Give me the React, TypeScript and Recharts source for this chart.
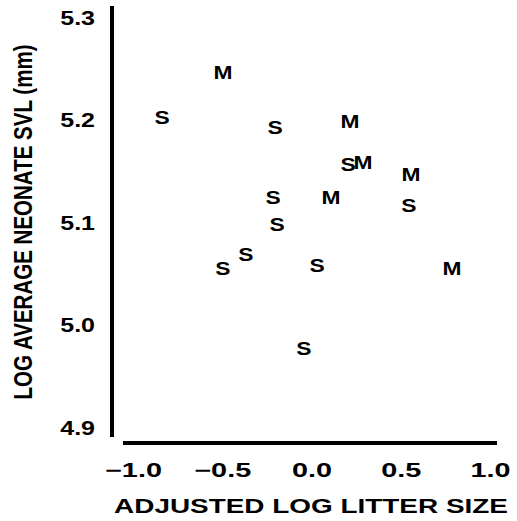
import { Label, Scatter, ScatterChart, XAxis, YAxis } from "recharts";

// litter size (x) vs neonate SVL (y), S and M groups
const sLitter = [-0.84, -0.207, -0.218, -0.196, 0.202, 0.543, -0.37, -0.499, 0.028, -0.045];
const sSvl = [5.203, 5.193, 5.125, 5.099, 5.157, 5.117, 5.07, 5.056, 5.059, 4.978];
const mLitter = [-0.499, 0.106, 0.286, 0.213, 0.555, 0.784];
const mSvl = [5.247, 5.125, 5.159, 5.199, 5.148, 5.056];

const xTicks = [-1, -0.5, 0, 0.5, 1];
const yTicks = [4.9, 5.0, 5.1, 5.2, 5.3];

const sData = sLitter.map((x, i) => ({ x, y: sSvl[i] }));
const mData = mLitter.map((x, i) => ({ x, y: mSvl[i] }));

const FONT = "'Liberation Sans', Arial, Helvetica, sans-serif";
const W = 517;
const H = 521;

const fmt = (v: number) => (v < 0 ? "\u2212" + Math.abs(v).toFixed(1) : v.toFixed(1));

function XTick(props: any) {
  const { x, payload } = props;
  return (
    <g transform={`translate(${x},470)`}>
      <text transform="scale(1.48,1)" textAnchor="middle" dominantBaseline="central" fontFamily={FONT} fontWeight={700} fontSize={19.5} fill="#000">
        {fmt(payload.value)}
      </text>
    </g>
  );
}

function YTick(props: any) {
  const { y, payload } = props;
  return (
    <g transform={`translate(95,${y})`}>
      <text transform="scale(1.25,1)" textAnchor="end" dominantBaseline="central" fontFamily={FONT} fontWeight={700} fontSize={20} fill="#000">
        {payload.value.toFixed(1)}
      </text>
    </g>
  );
}

const letter = (ch: string) => (props: any) => (
  <g transform={`translate(${props.cx},${props.cy})`}>
    <text transform="scale(1.2,1)" textAnchor="middle" dominantBaseline="central" fontFamily={FONT} fontWeight={700} fontSize={19} fill="#000">
      {ch}
    </text>
  </g>
);

export default function App() {
  return (
    <div style={{ position: "absolute", left: 0, top: 0, width: W, height: H, background: "#fff" }}>
      <ScatterChart width={W} height={H} margin={{ top: 6, right: 20, bottom: 0, left: 0 }}>
        <XAxis
          type="number"
          dataKey="x"
          domain={[-1.1204, 1.0364]}
          allowDataOverflow
          ticks={xTicks}
          interval={0}
          height={78}
          tickLine={false}
          axisLine={{ stroke: "#000", strokeWidth: 4, strokeDasharray: "0 11 1000" }}
          tick={<XTick />}
        >
          <Label
            content={() => (
              <g transform="translate(311,506)">
                <text transform="scale(1.33,1)" textAnchor="middle" dominantBaseline="central" fontFamily={FONT} fontWeight={700} fontSize={21} fill="#000">
                  ADJUSTED LOG LITTER SIZE
                </text>
              </g>
            )}
          />
        </XAxis>
        <YAxis
          type="number"
          dataKey="y"
          domain={[4.8854, 5.3117]}
          allowDataOverflow
          ticks={yTicks}
          interval={0}
          width={112}
          tickLine={false}
          axisLine={{ stroke: "#000", strokeWidth: 4, strokeDasharray: "431 1000" }}
          tick={<YTick />}
        >
          <Label
            content={() => (
              <g transform="translate(23,222) rotate(-90)">
                <text transform="scale(0.79,1)" textAnchor="middle" dominantBaseline="central" fontFamily={FONT} fontWeight={700} fontSize={26} fill="#000">
                  LOG AVERAGE NEONATE SVL (mm)
                </text>
              </g>
            )}
          />
        </YAxis>
        <Scatter data={sData} shape={letter("S")} isAnimationActive={false} />
        <Scatter data={mData} shape={letter("M")} isAnimationActive={false} />
      </ScatterChart>
    </div>
  );
}
